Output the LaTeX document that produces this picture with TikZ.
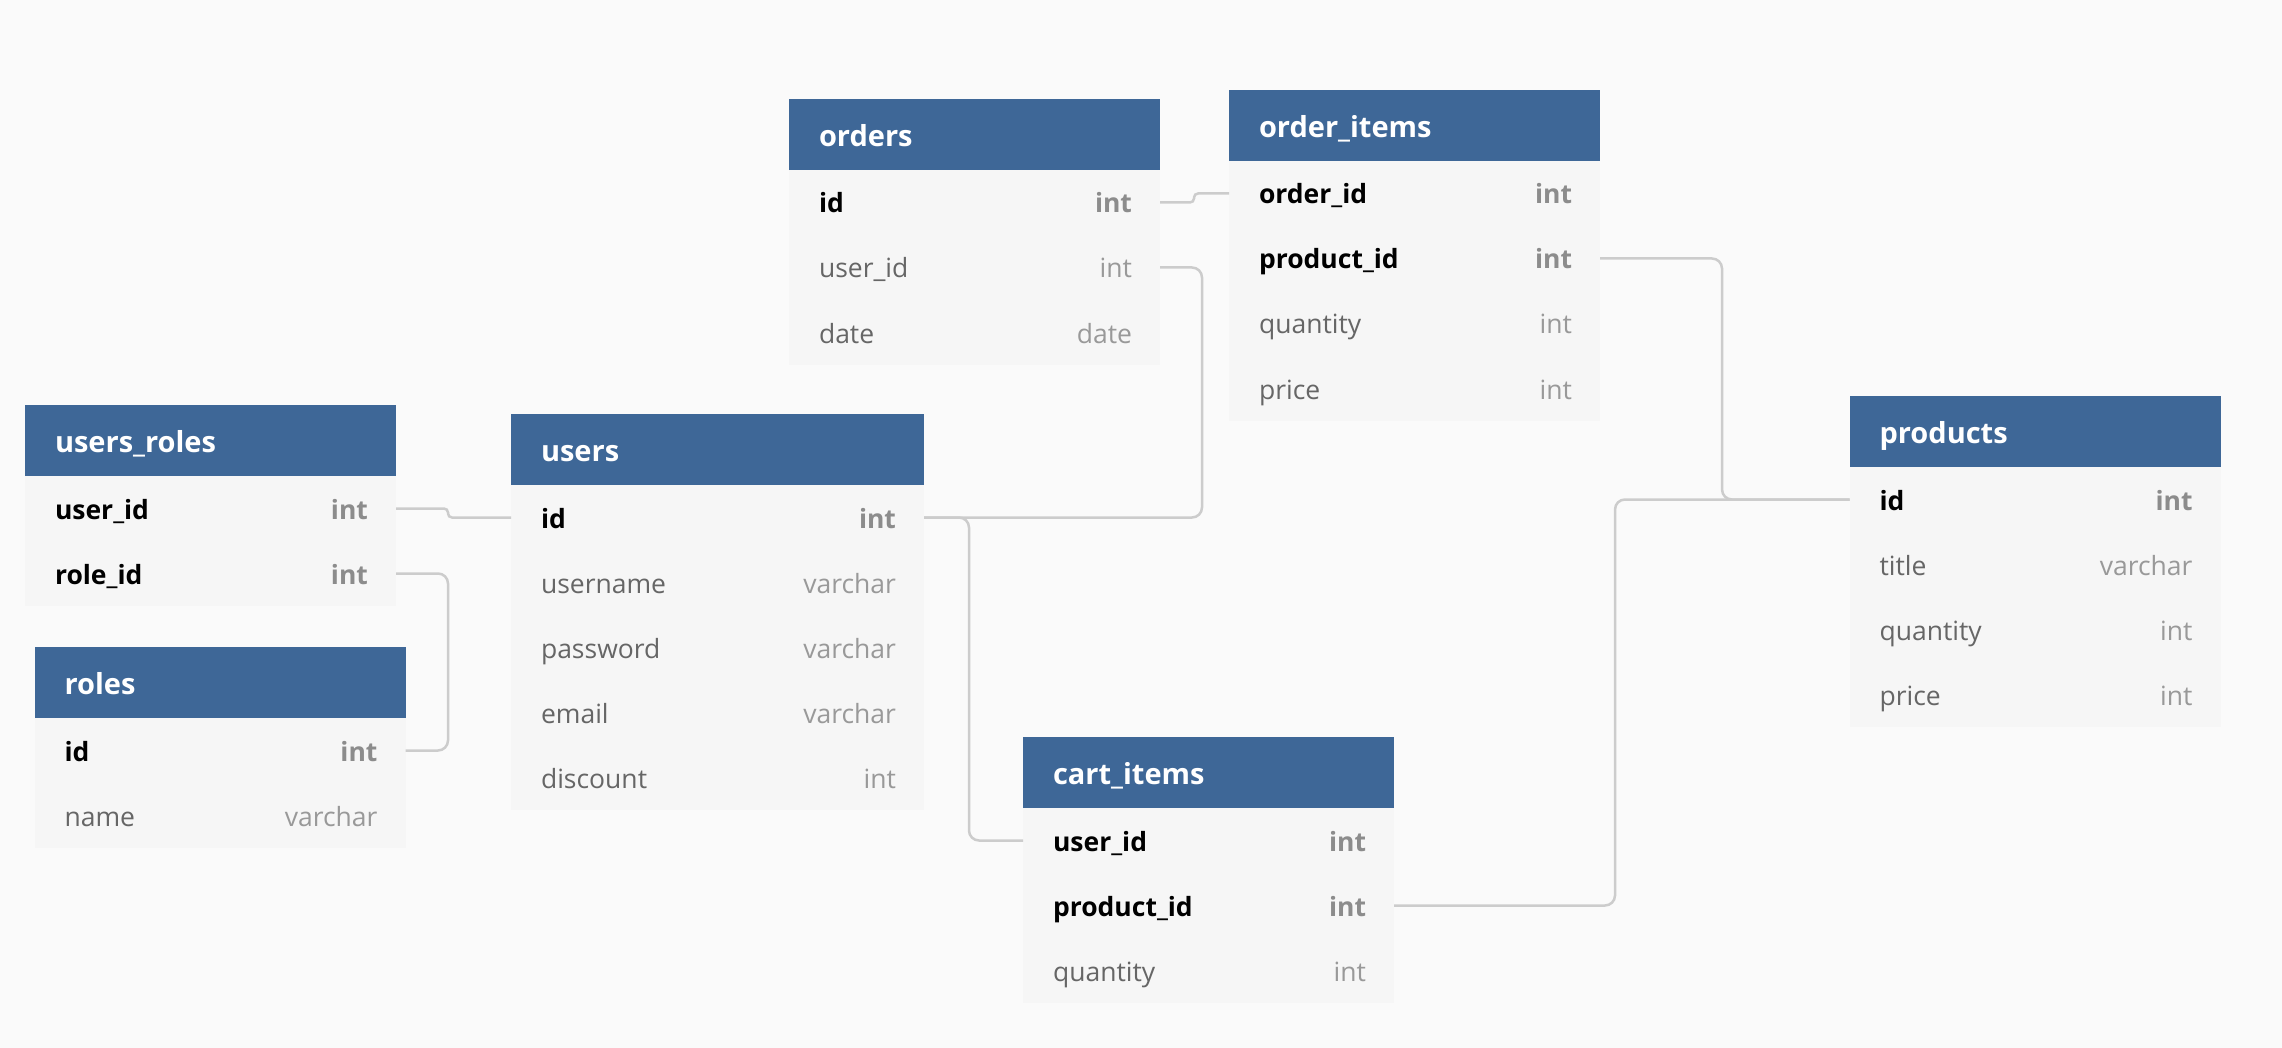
\documentclass[tikz,border=0pt]{standalone}
\usepackage{fontspec}
\setmainfont{Open Sans}
\definecolor{bg}{HTML}{FAFAFA}
\definecolor{hdrblue}{HTML}{3E6797}
\definecolor{rowbg}{HTML}{F6F6F6}
\definecolor{keytype}{HTML}{8C8C8C}
\definecolor{fname}{HTML}{666666}
\definecolor{ftype}{HTML}{999999}
\definecolor{conn}{HTML}{CCCCCC}
\newcommand\keyrow[2]{\textbf{#1}\hfill{\color{keytype}\textbf{#2}}\kern-2pt}
\newcommand\plainrow[2]{{\color{fname}#1}\hfill{\color{ftype}#2}\kern-2pt}
\tikzset{
  hdr/.style={fill=hdrblue, text=white, font=\fontsize{29}{32}\selectfont\bfseries,
    minimum height=71pt, inner xsep=30pt, inner ysep=0pt, outer sep=0pt,
    anchor=north west, align=left, text height=24pt, text depth=0pt},
  row/.style={fill=rowbg, text=black, font=\fontsize{26.5}{30}\selectfont,
    minimum height=65pt, inner xsep=30pt, inner ysep=0pt, outer sep=0pt,
    anchor=north west, align=left, text height=21pt, text depth=0pt},
  narrow/.style={text width=311pt},
  wide/.style={text width=353pt},
  link/.style={draw=conn, line width=2.5pt, rounded corners=10pt},
  shortlink/.style={draw=conn, line width=2.5pt, rounded corners=4pt}
}
\begin{document}
\begin{tikzpicture}[x=1pt,y=-1pt]
\fill[bg] (0,0) rectangle (2282,1048);
\useasboundingbox (0,0) rectangle (2282,1048);

% orders
\node[hdr,narrow] (orders) at (789,99) {orders};
\node[row,narrow] (orders-id) at (orders.south west) {\keyrow{id}{int}};
\node[row,narrow] (orders-userid) at (orders-id.south west) {\plainrow{user\_id}{int}};
\node[row,narrow] (orders-date) at (orders-userid.south west) {\plainrow{date}{date}};

% order_items
\node[hdr,narrow] (oi) at (1229,90) {order\_items};
\node[row,narrow] (oi-orderid) at (oi.south west) {\keyrow{order\_id}{int}};
\node[row,narrow] (oi-productid) at (oi-orderid.south west) {\keyrow{product\_id}{int}};
\node[row,narrow] (oi-quantity) at (oi-productid.south west) {\plainrow{quantity}{int}};
\node[row,narrow] (oi-price) at (oi-quantity.south west) {\plainrow{price}{int}};

% users_roles
\node[hdr,narrow] (ur) at (25,405) {users\_roles};
\node[row,narrow] (ur-userid) at (ur.south west) {\keyrow{user\_id}{int}};
\node[row,narrow] (ur-roleid) at (ur-userid.south west) {\keyrow{role\_id}{int}};

% users
\node[hdr,wide] (users) at (511,414) {users};
\node[row,wide] (users-id) at (users.south west) {\keyrow{id}{int}};
\node[row,wide] (users-username) at (users-id.south west) {\plainrow{username}{varchar}};
\node[row,wide] (users-password) at (users-username.south west) {\plainrow{password}{varchar}};
\node[row,wide] (users-email) at (users-password.south west) {\plainrow{email}{varchar}};
\node[row,wide] (users-discount) at (users-email.south west) {\plainrow{discount}{int}};

% roles
\node[hdr,narrow] (roles) at (34.5,647) {roles};
\node[row,narrow] (roles-id) at (roles.south west) {\keyrow{id}{int}};
\node[row,narrow] (roles-name) at (roles-id.south west) {\plainrow{name}{varchar}};

% cart_items
\node[hdr,narrow] (cart) at (1023,737) {cart\_items};
\node[row,narrow] (cart-userid) at (cart.south west) {\keyrow{user\_id}{int}};
\node[row,narrow] (cart-productid) at (cart-userid.south west) {\keyrow{product\_id}{int}};
\node[row,narrow] (cart-quantity) at (cart-productid.south west) {\plainrow{quantity}{int}};

% products
\node[hdr,narrow] (products) at (1849.5,396) {products};
\node[row,narrow] (products-id) at (products.south west) {\keyrow{id}{int}};
\node[row,narrow] (products-title) at (products-id.south west) {\plainrow{title}{varchar}};
\node[row,narrow] (products-quantity) at (products-title.south west) {\plainrow{quantity}{int}};
\node[row,narrow] (products-price) at (products-quantity.south west) {\plainrow{price}{int}};

% connectors
\draw[shortlink] (orders-id.east) -- ++(34,0) |- (oi-orderid.west);
\draw[link] (orders-userid.east) -- ++(42,0) |- (users-id.east);
\draw[link] (users-id.east) -- ++(45,0) |- (cart-userid.west);
\draw[shortlink] (ur-userid.east) -- ++(52,0) |- (users-id.west);
\draw[link] (ur-roleid.east) -- ++(52,0) |- (roles-id.east);
\draw[link] (oi-productid.east) -- ++(122,0) |- (products-id.west);
\draw[link] (cart-productid.east) -- ++(221,0) |- (products-id.west);
\end{tikzpicture}
\end{document}
